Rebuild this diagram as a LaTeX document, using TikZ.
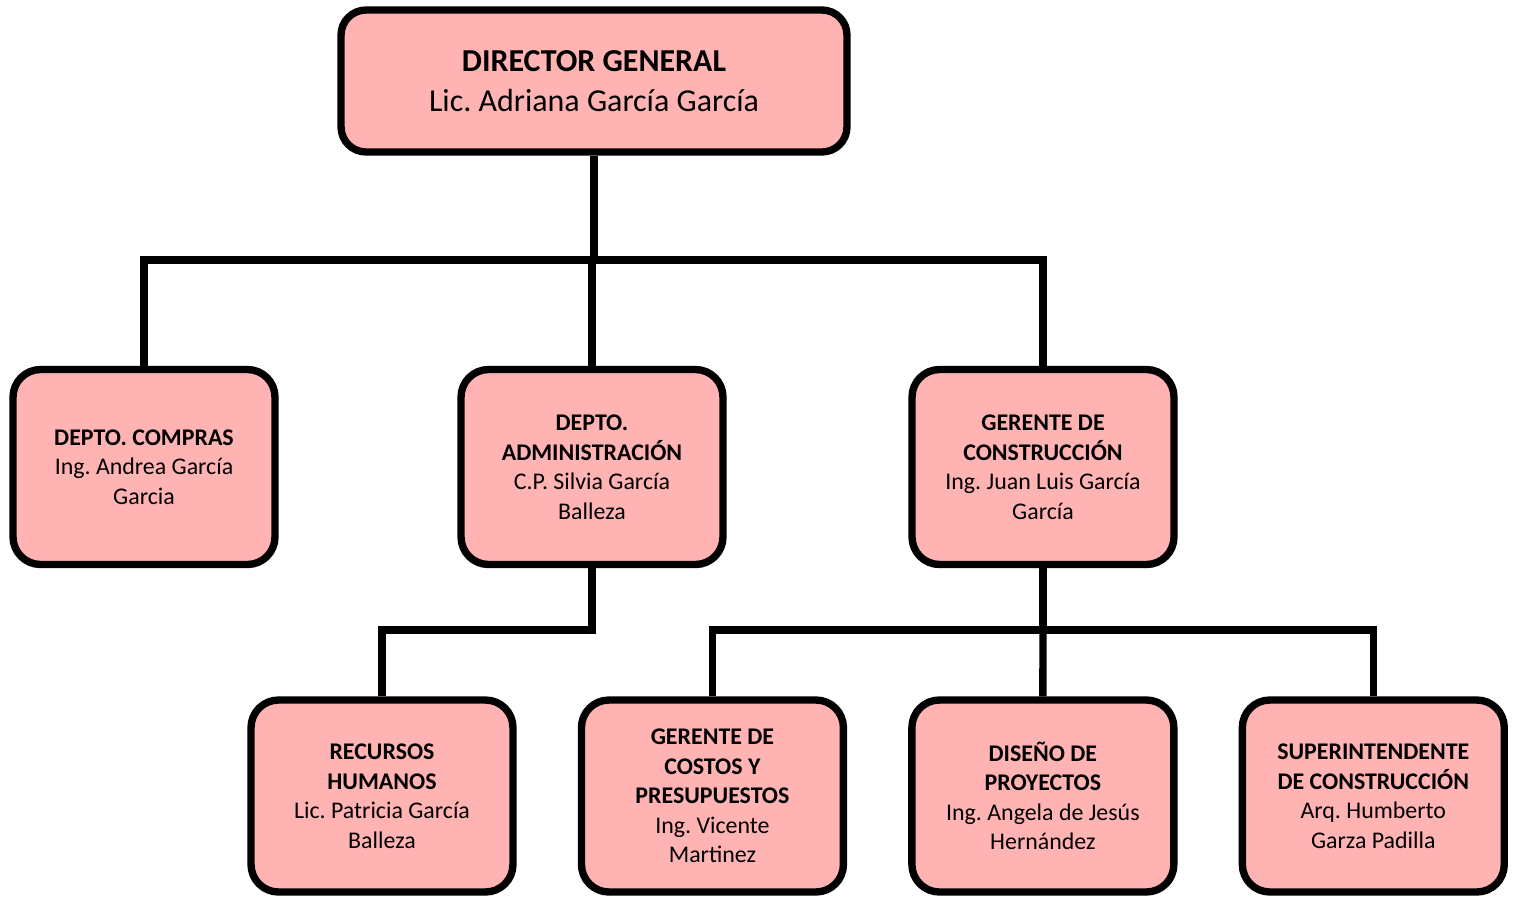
\documentclass[tikz,border=0pt]{standalone}
\usepackage{fontspec}
\setmainfont{Carlito}
\frenchspacing
\usetikzlibrary{positioning}
\definecolor{rosa}{HTML}{FFB3B3}
\tikzset{
  puesto/.style={draw, line width=4.2pt, fill=rosa, rounded corners=0.55cm, align=center,
    minimum width=5.24cm, minimum height=3.9cm, inner sep=2pt,
    font=\fontsize{13.6}{16.8}\selectfont},
  linea/.style={line width=4.2pt},
}
\begin{document}
\begin{tikzpicture}[x=0.02cm, y=-0.02cm, node distance=6.61cm]
    \useasboundingbox (0,0) rectangle (1517,897);

    \node[puesto, minimum width=10.12cm, minimum height=2.84cm, rounded corners=0.5cm,
          font=\fontsize{18.2}{22.8}\selectfont] (dir) at (594,81)
          {\textbf{DIRECTOR GENERAL}\\Lic. Adriana García García};

    \node[puesto] (compras) at (144,467) {\textbf{DEPTO. COMPRAS}\\Ing. Andrea García\\Garcia};
    \node[puesto] (admin) at (592,467) {\textbf{DEPTO.}\\\textbf{ADMINISTRACIÓN}\\C.P. Silvia García\\Balleza};
    \node[puesto] (gerente) at (1043,467) {\textbf{GERENTE DE}\\\textbf{CONSTRUCCIÓN}\\Ing. Juan Luis García\\García};

    \node[puesto, minimum height=3.84cm] (rh) at (382,796) {\textbf{RECURSOS}\\\textbf{HUMANOS}\\Lic. Patricia García\\Balleza};
    \node[puesto, minimum height=3.84cm] (costos) [right of=rh] {\textbf{GERENTE DE}\\\textbf{COSTOS Y}\\\textbf{PRESUPUESTOS}\\Ing. Vicente\\Martinez};
    \node[puesto, minimum height=3.84cm] (diseno) [right of=costos] {\textbf{DISEÑO DE}\\\textbf{PROYECTOS}\\Ing. Angela de Jesús\\Hernández};
    \node[puesto, minimum height=3.84cm] (super) [right of=diseno] {\textbf{SUPERINTENDENTE}\\\textbf{DE CONSTRUCCIÓN}\\Arq. Humberto\\Garza Padilla};

    \coordinate (ramaA) at (594,260);
    \coordinate (ramaB) at (1043,630);

    \draw[linea] (dir.south) -- (ramaA);
    \draw[linea] (compras.north) |- (ramaA) -| (gerente.north);
    \draw[linea] (admin.north) -- (admin.north |- ramaA);

    \draw[linea] (admin.south) |- (rh.north |- ramaB) -- (rh.north);

    \draw[linea] (gerente.south) -- (ramaB);
    \draw[linea] (costos.north) |- (ramaB) -| (super.north);
    \draw[linea] (diseno.north) -- (ramaB);
\end{tikzpicture}
\end{document}
